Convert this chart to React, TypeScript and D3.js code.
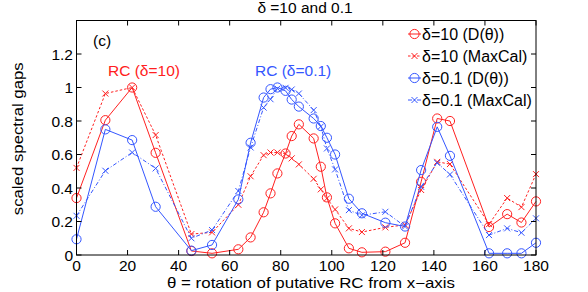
import React from "react";
import * as d3 from "d3";

// rotation angles (deg) of the putative RC
const theta = [
  0, 11.3, 21.8, 31, 45, 53.1, 63.4, 68.2, 73.3, 76, 78.7, 81.9, 84.3, 87.1,
  92.9, 95.7, 98.1, 101.3, 106.7, 111.8, 121, 128.7, 135, 141.3, 146.3, 161.6,
  168.7, 174.3, 180,
];

const redD = [
  0.34, 0.805, 1.0, 0.61, 0.024, 0.01, 0.034, 0.105, 0.255, 0.368, 0.487, 0.606,
  0.71, 0.78, 0.696, 0.527, 0.344, 0.189, 0.04, 0.016, 0.02, 0.073, 0.437,
  0.815, 0.8, 0.167, 0.244, 0.194, 0.32,
];
const redMaxCal = [
  0.52, 0.964, 1.0, 0.716, 0.125, 0.135, 0.3, 0.47, 0.596, 0.612, 0.612, 0.604,
  0.577, 0.541, 0.455, 0.392, 0.338, 0.272, 0.159, 0.137, 0.165, 0.18, 0.388,
  0.556, 0.543, 0.184, 0.34, 0.286, 0.483,
];
const blueD = [
  0.094, 0.75, 0.686, 0.288, 0.026, 0.06, 0.332, 0.67, 0.94, 0.99, 1.0, 0.98,
  0.928, 0.886, 0.815, 0.77, 0.7, 0.6, 0.336, 0.249, 0.193, 0.17, 0.507, 0.765,
  0.592, 0.01, 0.01, 0.01, 0.073,
];
const blueMaxCal = [
  0.234, 0.503, 0.612, 0.517, 0.1, 0.149, 0.382, 0.642, 0.88, 0.93, 0.994,
  0.998, 0.988, 0.964, 0.865, 0.767, 0.636, 0.511, 0.268, 0.237, 0.258, 0.17,
  0.407, 0.55, 0.481, 0.119, 0.159, 0.133, 0.219,
];

const xTicks = [0, 20, 40, 60, 80, 100, 120, 140, 160, 180];
const yTicks = [0, 0.2, 0.4, 0.6, 0.8, 1, 1.2];

const RED = "#ff2020";
const BLUE = "#3456ff";

const series = [
  { label: "δ=10 (D(θ))", values: redD, color: RED, marker: "o", dash: "none" },
  { label: "δ=10 (MaxCal)", values: redMaxCal, color: RED, marker: "x", dash: "2.5,2" },
  { label: "δ=0.1 (D(θ))", values: blueD, color: BLUE, marker: "o", dash: "none" },
  { label: "δ=0.1 (MaxCal)", values: blueMaxCal, color: BLUE, marker: "x", dash: "4,2,1,2" },
];

const FONT = "'Liberation Sans', Arial, Helvetica, sans-serif";

const Marker = ({ type, x, y, color }) =>
  type === "o" ? (
    <circle cx={x} cy={y} r={4.6} fill="none" stroke={color} strokeWidth={1} />
  ) : (
    <path
      d={`M${x - 3},${y - 3}L${x + 3},${y + 3}M${x - 3},${y + 3}L${x + 3},${y - 3}`}
      stroke={color}
      strokeWidth={1}
    />
  );

export default function App() {
  const W = 588;
  const H = 292;
  const left = 76.5;
  const right = 536;
  const top = 20.5;
  const bottom = 255;

  const x = d3.scaleLinear().domain([0, 180]).range([left, right]);
  const y = d3.scaleLinear().domain([0, 1.4]).range([bottom, top]);

  const line = d3
    .line<number>()
    .x((_, i) => x(theta[i]))
    .y((d) => y(d));

  const tick = 5;

  return (
    <svg
      width={W}
      height={H}
      style={{ position: "absolute", left: 0, top: 0, background: "#fff" }}
      fontFamily={FONT}
    >
      {/* title */}
      <text x={305} y={13} fontSize={15.5} textAnchor="middle">
        δ =10 and 0.1
      </text>

      {/* series */}
      {series.map((s) => (
        <g key={s.label}>
          <path
            d={line(s.values) || ""}
            fill="none"
            stroke={s.color}
            strokeWidth={1}
            strokeDasharray={s.dash}
          />
          {s.values.map((v, i) => (
            <Marker key={i} type={s.marker} x={x(theta[i])} y={y(v)} color={s.color} />
          ))}
        </g>
      ))}

      {/* axes box and ticks */}
      <rect
        x={left}
        y={top}
        width={right - left}
        height={bottom - top}
        fill="none"
        stroke="#000"
        strokeWidth={1}
      />
      {xTicks.map((t) => (
        <g key={"x" + t}>
          <line x1={x(t)} x2={x(t)} y1={bottom} y2={bottom - tick} stroke="#000" />
          <line x1={x(t)} x2={x(t)} y1={top} y2={top + tick} stroke="#000" />
          <text x={x(t)} y={271} fontSize={15.5} textAnchor="middle">
            {t}
          </text>
        </g>
      ))}
      {yTicks.map((t) => (
        <g key={"y" + t}>
          <line x1={left} x2={left + tick} y1={y(t)} y2={y(t)} stroke="#000" />
          <line x1={right} x2={right - tick} y1={y(t)} y2={y(t)} stroke="#000" />
          <text x={left - 3.5} y={y(t) + 5.5} fontSize={15.5} textAnchor="end">
            {String(t)}
          </text>
        </g>
      ))}

      {/* axis labels */}
      <text
        x={311}
        y={287.8}
        fontSize={14.5}
        textAnchor="middle"
        textLength={288}
        lengthAdjust="spacingAndGlyphs"
      >
        θ = rotation of putative RC from x−axis
      </text>
      <text
        transform={`translate(23,${(top + bottom) / 2 + 1}) rotate(-90)`}
        fontSize={15}
        textAnchor="middle"
        textLength={153}
        lengthAdjust="spacingAndGlyphs"
      >
        scaled spectral gaps
      </text>

      {/* annotations */}
      <text x={93} y={46} fontSize={15.5}>
        (c)
      </text>
      <text x={108} y={76} fontSize={15.5} fill={RED}>
        RC (δ=10)
      </text>
      <text x={255} y={76} fontSize={15.5} fill={BLUE}>
        RC (δ=0.1)
      </text>

      {/* legend */}
      {series.map((s, i) => {
        const cy = 34 + i * 22;
        return (
          <g key={"leg" + i}>
            <line
              x1={408}
              x2={421}
              y1={cy}
              y2={cy}
              stroke={s.color}
              strokeDasharray={s.dash}
            />
            <Marker type={s.marker} x={414.5} y={cy} color={s.color} />
            <text x={422} y={cy + 5.5} fontSize={16}>
              {s.label}
            </text>
          </g>
        );
      })}
    </svg>
  );
}
